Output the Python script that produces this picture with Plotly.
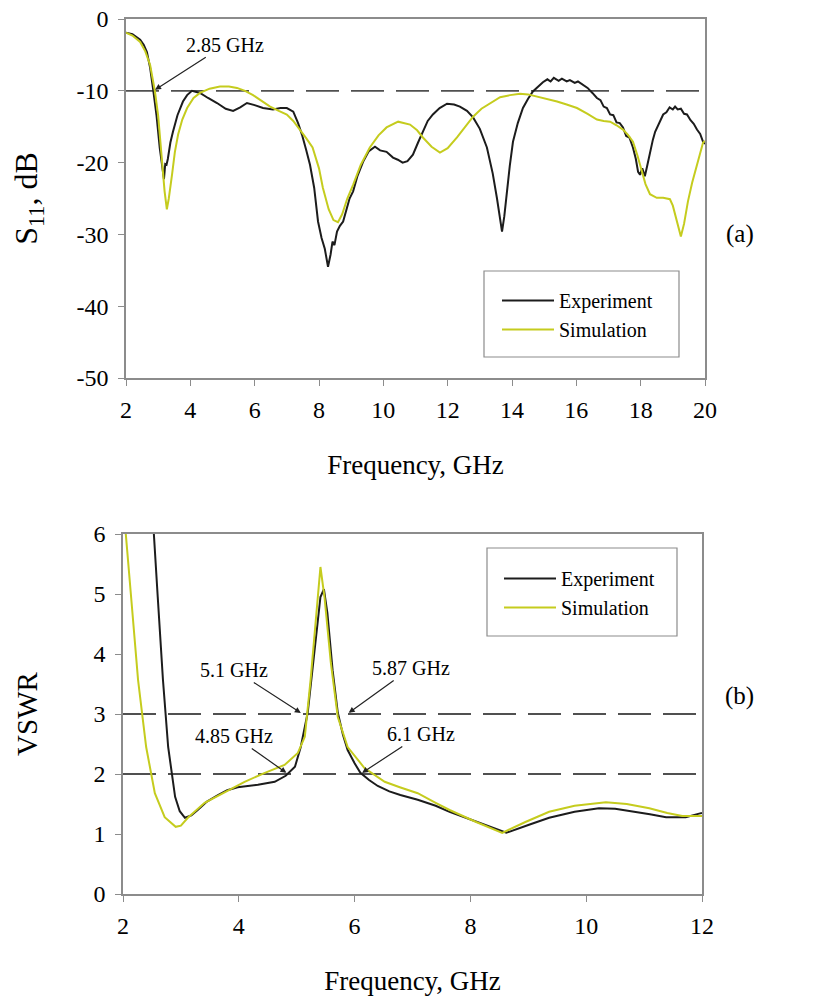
import plotly.graph_objects as go

# ---------------- (a) return loss, 2-20 GHz ----------------
freq_exp_a = [2.0, 2.2, 2.44, 2.55, 2.65, 2.75, 2.85, 2.95, 3.05, 3.12, 3.18, 3.22, 3.26, 3.3,
              3.38, 3.46, 3.6, 3.77, 3.9, 4.05, 4.3, 4.55, 4.83, 5.1, 5.33, 5.55, 5.76, 6.0,
              6.26, 6.57, 6.8, 7.0, 7.2, 7.35, 7.47, 7.6, 7.72, 7.85, 7.97, 8.08, 8.18, 8.28,
              8.36, 8.42, 8.48, 8.56, 8.65, 8.75, 8.85, 8.95, 9.06, 9.2, 9.37, 9.55, 9.74,
              9.9, 10.1, 10.3, 10.45, 10.6, 10.75, 10.92, 11.08, 11.23, 11.38, 11.54, 11.75,
              11.98, 12.2, 12.38, 12.6, 12.79, 13.0, 13.22, 13.4, 13.53, 13.62, 13.69, 13.76,
              13.84, 13.93, 14.03, 14.18, 14.34, 14.5, 14.65, 14.8, 14.96, 15.1, 15.2, 15.3,
              15.45, 15.55, 15.7, 15.8, 15.95, 16.05, 16.2, 16.35, 16.5, 16.64, 16.75, 16.85,
              16.95, 17.05, 17.15, 17.25, 17.35, 17.45, 17.55, 17.65, 17.76, 17.85, 17.92,
              17.98, 18.05, 18.13, 18.2, 18.3, 18.38, 18.45, 18.55, 18.62, 18.7, 18.8, 18.9,
              19.0, 19.07, 19.15, 19.25, 19.35, 19.44, 19.55, 19.65, 19.75, 19.85, 19.94, 20.0]
s11_exp = [-1.9, -2.1, -2.9, -3.6, -4.6, -6.8, -10.0, -13.5, -18.0, -20.8, -22.3, -20.2, -20.3,
           -19.5, -17.2, -15.7, -13.4, -11.5, -10.6, -10.0, -10.3, -11.0, -11.7, -12.5, -12.8,
           -12.3, -11.7, -12.0, -12.4, -12.6, -12.4, -12.4, -12.9, -14.5, -16.1, -18.2, -20.3,
           -23.5, -28.2, -30.5, -32.0, -34.5, -32.8, -31.0, -31.5, -29.6, -28.8, -28.2, -26.5,
           -25.0, -24.0, -21.8, -19.9, -18.4, -17.8, -18.3, -18.5, -19.3, -19.6, -20.0, -19.8,
           -18.9, -17.2, -15.7, -14.2, -13.3, -12.4, -11.8, -11.9, -12.2, -12.8, -13.7, -15.3,
           -17.9, -21.5, -24.9, -27.5, -29.6, -27.5, -24.0, -20.5, -17.1, -14.5, -12.4, -11.1,
           -10.1, -9.4, -8.8, -8.4, -8.7, -8.2, -8.6, -8.3, -8.7, -8.5, -8.9, -8.7, -9.2, -9.6,
           -10.3, -11.0, -11.3, -12.2, -12.4, -13.3, -13.4, -14.4, -14.5, -15.1, -16.3, -16.5,
           -17.9, -19.5, -21.3, -21.7, -20.8, -21.9, -20.5, -18.2, -16.8, -15.7, -14.8, -14.0,
           -13.3, -13.0, -12.3, -12.6, -12.2, -12.6, -12.5, -13.2, -13.3, -14.1, -14.6, -15.4,
           -16.0, -17.1, -17.4]

freq_sim_a = [2.0, 2.2, 2.44, 2.6, 2.75, 2.9, 3.0, 3.12, 3.2, 3.27, 3.33, 3.43, 3.52, 3.62,
              3.75, 3.9, 4.1, 4.3, 4.6, 4.92, 5.2, 5.45, 5.7, 5.95, 6.2, 6.48, 6.75, 7.0, 7.2,
              7.41, 7.6, 7.8, 8.0, 8.12, 8.3, 8.45, 8.59, 8.72, 8.88, 9.06, 9.3, 9.58, 9.85,
              10.1, 10.46, 10.83, 11.05, 11.23, 11.5, 11.76, 12.0, 12.29, 12.55, 12.79, 13.05,
              13.32, 13.63, 13.94, 14.25, 14.5, 14.77, 15.1, 15.4, 15.7, 16.02, 16.35, 16.64,
              16.85, 17.05, 17.25, 17.45, 17.6, 17.76, 17.9, 18.04, 18.15, 18.29, 18.5, 18.7,
              18.91, 19.0, 19.07, 19.17, 19.25, 19.35, 19.47, 19.6, 19.75, 19.94, 20.0]
s11_sim = [-1.9, -2.3, -3.2, -4.5, -6.4, -10.1, -13.5, -19.9, -24.0, -26.5, -25.0, -21.7,
           -18.5, -16.1, -14.0, -12.4, -11.0, -10.3, -9.7, -9.4, -9.4, -9.6, -10.0, -10.6,
           -11.3, -12.2, -12.8, -13.3, -14.2, -15.4, -16.6, -17.9, -20.8, -23.5, -26.5, -28.0,
           -28.3, -27.2, -25.0, -23.1, -20.3, -17.9, -16.2, -15.1, -14.3, -14.7, -15.5, -16.5,
           -17.8, -18.6, -18.0, -16.5, -15.0, -13.6, -12.5, -11.7, -10.9, -10.6, -10.4, -10.5,
           -10.8, -11.1, -11.5, -11.9, -12.4, -13.2, -14.0, -14.2, -14.3, -14.8, -15.4, -16.1,
           -17.1, -19.0, -21.3, -23.0, -24.4, -24.9, -24.9, -25.1, -26.0, -27.2, -29.0, -30.3,
           -28.5, -25.4, -22.8, -20.3, -17.2, -17.0]

# ---------------- (b) VSWR, 2-12 GHz ----------------
freq_exp_b = [2.45, 2.53, 2.6, 2.69, 2.78, 2.9, 2.98, 3.07, 3.18, 3.29, 3.45, 3.64, 3.8, 3.98,
              4.33, 4.62, 4.81, 4.97, 5.07, 5.19, 5.31, 5.41, 5.47, 5.53, 5.62, 5.71, 5.8,
              5.88, 6.0, 6.1, 6.25, 6.4, 6.6, 6.79, 7.09, 7.4, 7.64, 8.0, 8.3, 8.62, 9.0, 9.36,
              9.8, 10.22, 10.5, 10.79, 11.1, 11.38, 11.72, 11.95, 12.0]
vswr_exp = [7.3, 5.98, 4.95, 3.57, 2.45, 1.62, 1.38, 1.27, 1.31, 1.4, 1.54, 1.65, 1.73, 1.78,
            1.82, 1.87, 1.97, 2.12, 2.45, 3.02, 4.12, 4.95, 5.08, 4.68, 3.73, 3.02, 2.65, 2.4,
            2.18, 2.02, 1.9, 1.8, 1.71, 1.65, 1.57, 1.47, 1.37, 1.24, 1.13, 1.02, 1.15, 1.27,
            1.37, 1.43, 1.42, 1.38, 1.33, 1.28, 1.28, 1.34, 1.35]

freq_sim_b = [2.0, 2.05, 2.14, 2.26, 2.4, 2.55, 2.72, 2.91, 3.0, 3.12, 3.41, 3.76, 4.1, 4.45,
              4.79, 5.02, 5.14, 5.24, 5.36, 5.41, 5.48, 5.59, 5.71, 5.88, 6.17, 6.52, 6.78,
              7.09, 7.4, 7.64, 8.1, 8.55, 8.95, 9.36, 9.8, 10.34, 10.7, 11.09, 11.4, 11.66,
              11.95, 12.0]
vswr_sim = [6.4, 5.98, 4.95, 3.57, 2.45, 1.68, 1.28, 1.12, 1.14, 1.27, 1.52, 1.7, 1.87, 2.02,
            2.15, 2.35, 2.62, 3.57, 4.95, 5.45, 4.95, 3.85, 2.95, 2.45, 2.1, 1.87, 1.78, 1.68,
            1.52, 1.4, 1.2, 1.02, 1.2, 1.37, 1.47, 1.53, 1.5, 1.43, 1.35, 1.3, 1.3, 1.3]

# tick labels and reference levels
ticks_a_x = [2, 4, 6, 8, 10, 12, 14, 16, 18, 20]
ticks_a_y = [-50, -40, -30, -20, -10, 0]
ticklabels_a_y = ["-50", "-40", "-30", "-20", "-10", "0"]
ticks_b_x = [2, 4, 6, 8, 10, 12]
ticks_b_y = [0, 1, 2, 3, 4, 5, 6]
level_a = [-10]
levels_b = [3, 2]

# marked crossing frequencies: (freq, level, label, text offset x, text offset y)
marks_a = [(2.85, -10, "2.85 GHz", 72, -46)]
marks_b = [(5.1, 3, "5.1 GHz", -68, -44),
           (5.87, 3, "5.87 GHz", 64, -46),
           (4.85, 2, "4.85 GHz", -54, -38),
           (6.1, 2, "6.1 GHz", 61, -40)]

EXP_COLOR = "#1c1c1c"
SIM_COLOR = "#c5cc1e"
AXIS_COLOR = "#8c8c8c"
DASH_COLOR = "#505050"
FONT = "Liberation Serif, Times New Roman, serif"

W, H = 814, 1001

fig = go.Figure()
fig.add_trace(go.Scatter(x=freq_exp_a, y=s11_exp, mode="lines", name="Experiment",
                         line=dict(color=EXP_COLOR, width=2), xaxis="x", yaxis="y",
                         legend="legend"))
fig.add_trace(go.Scatter(x=freq_sim_a, y=s11_sim, mode="lines", name="Simulation",
                         line=dict(color=SIM_COLOR, width=2), xaxis="x", yaxis="y",
                         legend="legend"))
fig.add_trace(go.Scatter(x=freq_exp_b, y=vswr_exp, mode="lines", name="Experiment",
                         line=dict(color=EXP_COLOR, width=2), xaxis="x2", yaxis="y2",
                         legend="legend2"))
fig.add_trace(go.Scatter(x=freq_sim_b, y=vswr_sim, mode="lines", name="Simulation",
                         line=dict(color=SIM_COLOR, width=2), xaxis="x2", yaxis="y2",
                         legend="legend2"))

def px_x(p):
    return p / W

def px_y(p):
    return 1 - p / H

axis_common = dict(showline=True, linecolor=AXIS_COLOR, linewidth=1.5, mirror=True,
                   ticks="outside", ticklen=6, tickcolor=AXIS_COLOR, tickwidth=1.2,
                   showgrid=False, zeroline=False, automargin=False,
                   tickfont=dict(family=FONT, size=24, color="black"))

fig.update_layout(
    width=W, height=H,
    margin=dict(l=0, r=0, t=0, b=0),
    paper_bgcolor="white", plot_bgcolor="white",
    font=dict(family=FONT, color="black"),
    xaxis=dict(domain=[px_x(126), px_x(705)], range=[2, 20], tickvals=ticks_a_x,
               anchor="y", ticklabelstandoff=3,
               title=dict(text="Frequency, GHz", font=dict(family=FONT, size=27), standoff=34),
               **axis_common),
    yaxis=dict(domain=[px_y(378), px_y(19)], range=[-50, 0], tickvals=ticks_a_y,
               ticktext=ticklabels_a_y, anchor="x", ticklabelstandoff=5,
               title=dict(text="S<sub>11</sub>, dB", font=dict(family=FONT, size=32), standoff=29),
               **axis_common),
    xaxis2=dict(domain=[px_x(123), px_x(702)], range=[2, 12], tickvals=ticks_b_x,
                anchor="y2", ticklabelstandoff=3,
                title=dict(text="Frequency, GHz", font=dict(family=FONT, size=27), standoff=34),
                **axis_common),
    yaxis2=dict(domain=[px_y(894), px_y(534)], range=[0, 6], tickvals=ticks_b_y,
                anchor="x2", ticklabelstandoff=5,
                title=dict(text="VSWR", font=dict(family=FONT, size=29), standoff=47),
                **axis_common),
    legend=dict(x=px_x(497), y=px_y(281), xanchor="left", yanchor="top",
                bgcolor="rgba(0,0,0,0)", borderwidth=0,
                font=dict(family=FONT, size=20, color="black"), itemwidth=52),
    legend2=dict(x=px_x(499), y=px_y(559), xanchor="left", yanchor="top",
                 bgcolor="rgba(0,0,0,0)", borderwidth=0,
                 font=dict(family=FONT, size=20, color="black"), itemwidth=52),
)

shapes = []
# legend frames
shapes.append(dict(type="rect", xref="paper", yref="paper",
                   x0=px_x(484), x1=px_x(679), y0=px_y(357), y1=px_y(271),
                   line=dict(color=AXIS_COLOR, width=1.2), fillcolor="white", layer="below"))
shapes.append(dict(type="rect", xref="paper", yref="paper",
                   x0=px_x(487), x1=px_x(677), y0=px_y(636), y1=px_y(548),
                   line=dict(color=AXIS_COLOR, width=1.2), fillcolor="white", layer="below"))
# dashed reference levels
for lv in level_a:
    shapes.append(dict(type="line", xref="x", yref="y", x0=ticks_a_x[0], x1=ticks_a_x[-1],
                       y0=lv, y1=lv, line=dict(color=DASH_COLOR, width=1.8, dash="33px,12px"),
                       layer="below"))
for lv in levels_b:
    shapes.append(dict(type="line", xref="x2", yref="y2", x0=ticks_b_x[0], x1=ticks_b_x[-1],
                       y0=lv, y1=lv, line=dict(color=DASH_COLOR, width=1.8, dash="33px,12px"),
                       layer="below"))
fig.update_layout(shapes=shapes)

annotations = []
for f, lv, txt, ox, oy in marks_a:
    annotations.append(dict(x=f, y=lv, xref="x", yref="y", text=txt, showarrow=True,
                            ax=ox, ay=oy, arrowhead=2, arrowsize=1, arrowwidth=1.2,
                            arrowcolor="#222", standoff=2,
                            font=dict(family=FONT, size=20, color="black")))
for f, lv, txt, ox, oy in marks_b:
    annotations.append(dict(x=f, y=lv, xref="x2", yref="y2", text=txt, showarrow=True,
                            ax=ox, ay=oy, arrowhead=2, arrowsize=1, arrowwidth=1.2,
                            arrowcolor="#222", standoff=2,
                            font=dict(family=FONT, size=20, color="black")))
annotations.append(dict(x=px_x(756), y=px_y(218), xref="paper", yref="paper", text="(a)",
                        showarrow=False, font=dict(family=FONT, size=25, color="black")))
annotations.append(dict(x=px_x(756), y=px_y(712), xref="paper", yref="paper", text="(b)",
                        showarrow=False, font=dict(family=FONT, size=25, color="black")))
fig.update_layout(annotations=annotations)

fig.write_html("out.html")
